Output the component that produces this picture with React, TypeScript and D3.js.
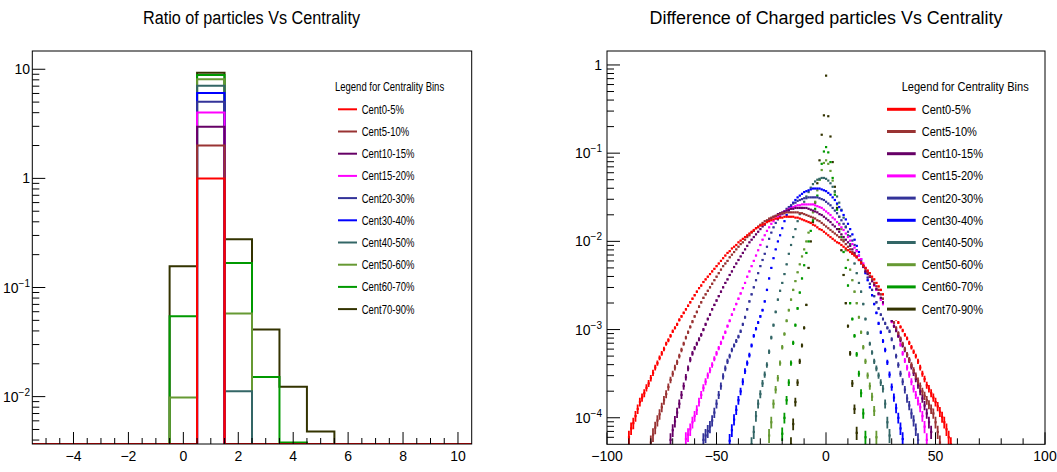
import React from 'react';
import * as d3 from 'd3';

const W = 1057;
const H = 472;
const FONT = "'Liberation Sans', Arial, Helvetica, sans-serif";

// ---------- shared legend ----------
const CENT_LABELS = [
  'Cent0-5%', 'Cent5-10%', 'Cent10-15%', 'Cent15-20%', 'Cent20-30%',
  'Cent30-40%', 'Cent40-50%', 'Cent50-60%', 'Cent60-70%', 'Cent70-90%',
];
const COLORS = [
  '#ff0000', '#993333', '#660066', '#ff00ff', '#333399',
  '#0000ff', '#336666', '#669933', '#009900', '#333300',
];
const LEFT_TITLE = 'Ratio of particles Vs Centrality';
const RIGHT_TITLE = 'Difference of Charged particles Vs Centrality';
const LEGEND_TITLE = 'Legend for Centrality Bins';

// ---------- left pad: ratio histograms ----------
const BIN_CENTERS = [-5, -4, -3, -2, -1, 0, 1, 2, 3, 4, 5, 6, 7, 8, 9, 10];
const RATIO_0_5 = [0, 0, 0, 0, 0, 0, 1.0, 0, 0, 0, 0, 0, 0, 0, 0, 0];
const RATIO_5_10 = [0, 0, 0, 0, 0, 0, 2.0, 0, 0, 0, 0, 0, 0, 0, 0, 0];
const RATIO_10_15 = [0, 0, 0, 0, 0, 0, 2.98, 0, 0, 0, 0, 0, 0, 0, 0, 0];
const RATIO_15_20 = [0, 0, 0, 0, 0, 0, 4.02, 0, 0, 0, 0, 0, 0, 0, 0, 0];
const RATIO_20_30 = [0, 0, 0, 0, 0, 0, 5.05, 0, 0, 0, 0, 0, 0, 0, 0, 0];
const RATIO_30_40 = [0, 0, 0, 0, 0, 0, 6.05, 0, 0, 0, 0, 0, 0, 0, 0, 0];
const RATIO_40_50 = [0, 0, 0, 0, 0, 0, 7.05, 0.0112, 0, 0, 0, 0, 0, 0, 0, 0];
const RATIO_50_60 = [0, 0, 0, 0, 0, 0.0098, 8.1, 0.0577, 0, 0, 0, 0, 0, 0, 0, 0];
const RATIO_60_70 = [0, 0, 0, 0, 0, 0.0546, 8.85, 0.168, 0.0151, 0.0038, 0, 0, 0, 0, 0, 0];
const RATIO_70_90 = [0, 0, 0, 0, 0, 0.157, 9.3, 0.277, 0.0412, 0.0123, 0.0048, 0, 0, 0, 0, 0];
const RATIO_SERIES = [
  RATIO_0_5, RATIO_5_10, RATIO_10_15, RATIO_15_20, RATIO_20_30,
  RATIO_30_40, RATIO_40_50, RATIO_50_60, RATIO_60_70, RATIO_70_90,
];

// ---------- right pad: difference distributions (log10 of normalised counts, one per integer bin) ----------
const DIFF_START = [-90, -80, -71, -64, -56, -44, -34, -26, -20, -16];
const DIFF_LOG_0_5 = [
  -4.22, -4.12, -4.06, -3.98, -3.90, -3.82, -3.77, -3.72, -3.66, -3.61,
  -3.55, -3.49, -3.43, -3.38, -3.32, -3.27, -3.22, -3.16, -3.12, -3.07,
  -3.02, -2.98, -2.94, -2.89, -2.85, -2.81, -2.77, -2.73, -2.69, -2.65,
  -2.61, -2.57, -2.53, -2.50, -2.46, -2.43, -2.40, -2.37, -2.34, -2.31,
  -2.28, -2.25, -2.22, -2.19, -2.16, -2.13, -2.11, -2.08, -2.06, -2.04,
  -2.01, -1.99, -1.97, -1.95, -1.93, -1.91, -1.89, -1.87, -1.85, -1.84,
  -1.82, -1.81, -1.80, -1.78, -1.77, -1.76, -1.75, -1.74, -1.74, -1.73,
  -1.73, -1.72, -1.72, -1.72, -1.72, -1.72, -1.73, -1.73, -1.74, -1.75,
  -1.76, -1.77, -1.78, -1.79, -1.81, -1.82, -1.84, -1.86, -1.87, -1.89,
  -1.91, -1.93, -1.95, -1.97, -1.99, -2.01, -2.02, -2.04, -2.06, -2.08,
  -2.10, -2.12, -2.14, -2.16, -2.18, -2.21, -2.24, -2.27, -2.30, -2.33,
  -2.36, -2.40, -2.43, -2.47, -2.51, -2.55, -2.60, -2.64, -2.69, -2.73,
  -2.78, -2.83, -2.88, -2.92, -2.97, -3.01, -3.06, -3.10, -3.15, -3.20,
  -3.25, -3.30, -3.36, -3.43, -3.50, -3.56, -3.63, -3.67, -3.72, -3.77,
  -3.82, -3.87, -3.93, -3.99, -4.05, -4.13, -4.22, -4.30,
];
const DIFF_LOG_5_10 = [
  -4.28, -4.19, -4.11, -4.03, -3.96, -3.88, -3.80, -3.73, -3.65, -3.57,
  -3.50, -3.43, -3.37, -3.30, -3.23, -3.16, -3.09, -3.03, -2.97, -2.91,
  -2.85, -2.80, -2.74, -2.69, -2.64, -2.60, -2.56, -2.52, -2.48, -2.44,
  -2.40, -2.36, -2.32, -2.28, -2.25, -2.22, -2.18, -2.15, -2.12, -2.09,
  -2.06, -2.03, -2.01, -1.98, -1.95, -1.93, -1.90, -1.88, -1.85, -1.83,
  -1.81, -1.79, -1.77, -1.76, -1.74, -1.73, -1.72, -1.71, -1.70, -1.69,
  -1.68, -1.68, -1.67, -1.67, -1.67, -1.67, -1.67, -1.67, -1.68, -1.68,
  -1.69, -1.70, -1.71, -1.72, -1.73, -1.74, -1.76, -1.77, -1.79, -1.81,
  -1.83, -1.85, -1.87, -1.89, -1.91, -1.93, -1.95, -1.98, -2.00, -2.03,
  -2.06, -2.09, -2.12, -2.15, -2.18, -2.21, -2.24, -2.28, -2.31, -2.35,
  -2.39, -2.43, -2.47, -2.51, -2.55, -2.60, -2.65, -2.70, -2.75, -2.80,
  -2.86, -2.92, -2.98, -3.04, -3.10, -3.16, -3.22, -3.28, -3.34, -3.40,
  -3.46, -3.52, -3.58, -3.64, -3.70, -3.75, -3.80, -3.85, -3.90, -3.95,
  -4.05, -4.16, -4.28,
];
const DIFF_LOG_10_15 = [
  -4.25, -4.14, -4.04, -3.94, -3.84, -3.74, -3.64, -3.54, -3.44, -3.34,
  -3.27, -3.21, -3.16, -3.11, -3.06, -3.00, -2.94, -2.88, -2.83, -2.77,
  -2.72, -2.67, -2.62, -2.57, -2.52, -2.47, -2.43, -2.38, -2.34, -2.29,
  -2.25, -2.21, -2.17, -2.13, -2.09, -2.05, -2.01, -1.98, -1.95, -1.92,
  -1.89, -1.86, -1.83, -1.81, -1.78, -1.76, -1.74, -1.72, -1.71, -1.69,
  -1.68, -1.67, -1.66, -1.65, -1.64, -1.63, -1.63, -1.62, -1.62, -1.62,
  -1.62, -1.62, -1.62, -1.63, -1.64, -1.65, -1.66, -1.67, -1.69, -1.70,
  -1.72, -1.74, -1.76, -1.78, -1.81, -1.83, -1.86, -1.89, -1.92, -1.95,
  -1.98, -2.01, -2.05, -2.09, -2.13, -2.17, -2.21, -2.25, -2.29, -2.34,
  -2.37, -2.40, -2.45, -2.49, -2.54, -2.59, -2.64, -2.69, -2.74, -2.79,
  -2.85, -2.90, -2.96, -3.01, -3.07, -3.12, -3.18, -3.23, -3.29, -3.35,
  -3.42, -3.49, -3.56, -3.63, -3.70, -3.78, -3.86, -3.95, -4.05, -4.16,
];
const DIFF_LOG_15_20 = [
  -4.24, -4.19, -4.13, -4.05, -3.98, -3.91, -3.82, -3.74, -3.66, -3.59,
  -3.52, -3.46, -3.40, -3.33, -3.27, -3.21, -3.15, -3.09, -3.03, -2.96,
  -2.90, -2.83, -2.77, -2.71, -2.65, -2.59, -2.53, -2.47, -2.40, -2.34,
  -2.28, -2.22, -2.16, -2.10, -2.04, -1.98, -1.93, -1.88, -1.84, -1.80,
  -1.77, -1.74, -1.72, -1.70, -1.68, -1.66, -1.65, -1.63, -1.62, -1.61,
  -1.60, -1.59, -1.59, -1.58, -1.58, -1.58, -1.58, -1.58, -1.58, -1.59,
  -1.60, -1.61, -1.62, -1.64, -1.66, -1.68, -1.70, -1.73, -1.75, -1.78,
  -1.81, -1.84, -1.87, -1.91, -1.95, -1.99, -2.03, -2.07, -2.11, -2.16,
  -2.20, -2.25, -2.30, -2.35, -2.40, -2.45, -2.50, -2.55, -2.60, -2.66,
  -2.71, -2.76, -2.81, -2.86, -2.91, -2.96, -3.00, -3.07, -3.17, -3.27,
  -3.35, -3.43, -3.51, -3.59, -3.67, -3.74, -3.81, -3.88, -3.98, -4.10,
  -4.25,
];
const DIFF_LOG_20_30 = [
  -4.25, -4.20, -4.15, -4.10, -4.03, -3.94, -3.84, -3.74, -3.64, -3.53,
  -3.44, -3.36, -3.30, -3.23, -3.18, -3.13, -3.08, -3.02, -2.94, -2.86,
  -2.77, -2.68, -2.60, -2.52, -2.44, -2.36, -2.28, -2.21, -2.14, -2.06,
  -1.97, -1.90, -1.84, -1.79, -1.75, -1.72, -1.69, -1.66, -1.63, -1.61,
  -1.59, -1.57, -1.56, -1.54, -1.53, -1.52, -1.51, -1.51, -1.50, -1.50,
  -1.50, -1.50, -1.50, -1.51, -1.52, -1.53, -1.55, -1.57, -1.59, -1.62,
  -1.65, -1.68, -1.72, -1.76, -1.80, -1.84, -1.89, -1.94, -1.99, -2.04,
  -2.10, -2.16, -2.22, -2.28, -2.34, -2.41, -2.48, -2.55, -2.62, -2.69,
  -2.76, -2.83, -2.88, -2.93, -2.98, -3.02, -3.11, -3.20, -3.30, -3.40,
  -3.50, -3.59, -3.68, -3.78, -3.86, -3.95, -4.03, -4.13, -4.25,
];
const DIFF_LOG_30_40 = [
  -4.26, -4.14, -4.02, -3.91, -3.80, -3.70, -3.59, -3.47, -3.38, -3.29,
  -3.18, -3.07, -2.99, -2.92, -2.85, -2.78, -2.68, -2.55, -2.42, -2.30,
  -2.19, -2.09, -2.00, -1.93, -1.85, -1.77, -1.70, -1.65, -1.60, -1.56,
  -1.53, -1.50, -1.48, -1.46, -1.44, -1.43, -1.42, -1.41, -1.40, -1.40,
  -1.40, -1.40, -1.41, -1.42, -1.43, -1.45, -1.47, -1.50, -1.53, -1.57,
  -1.61, -1.65, -1.70, -1.75, -1.80, -1.86, -1.92, -1.98, -2.05, -2.12,
  -2.20, -2.28, -2.36, -2.44, -2.52, -2.61, -2.71, -2.81, -2.93, -3.03,
  -3.13, -3.23, -3.37, -3.51, -3.65, -3.77, -3.89, -4.00, -4.12, -4.24,
];
const DIFF_LOG_40_50 = [
  -4.30, -4.16, -3.98, -3.84, -3.73, -3.61, -3.51, -3.40, -3.25, -3.09,
  -2.95, -2.80, -2.66, -2.56, -2.47, -2.37, -2.26, -2.14, -2.04, -1.95,
  -1.86, -1.77, -1.69, -1.62, -1.55, -1.49, -1.44, -1.39, -1.35, -1.32,
  -1.30, -1.29, -1.28, -1.28, -1.29, -1.31, -1.34, -1.38, -1.43, -1.49,
  -1.56, -1.64, -1.73, -1.83, -1.93, -2.03, -2.14, -2.25, -2.36, -2.47,
  -2.57, -2.71, -2.88, -3.04, -3.16, -3.26, -3.36, -3.44, -3.52, -3.60,
  -3.67, -3.84, -4.05, -4.20,
];
const DIFF_LOG_50_60 = [
  -4.20, -4.05, -3.84, -3.68, -3.55, -3.38, -3.20, -3.05, -2.90, -2.78,
  -2.66, -2.55, -2.45, -2.35, -2.26, -2.17, -2.09, -2.00, -1.90, -1.79,
  -1.67, -1.55, -1.42, -1.30, -1.19, -1.11, -1.08, -1.12, -1.20, -1.31,
  -1.44, -1.58, -1.72, -1.86, -1.98, -2.10, -2.21, -2.32, -2.44, -2.57,
  -2.70, -2.86, -3.03, -3.20, -3.36, -3.52, -3.64, -3.76, -3.92, -4.22,
];
const DIFF_LOG_60_70 = [
  -4.18, -4.00, -3.80, -3.60, -3.38, -3.15, -2.95, -2.76, -2.58, -2.42,
  -2.27, -2.13, -2.00, -1.88, -1.76, -1.63, -1.48, -1.30, -1.12, -0.98,
  -0.93, -0.99, -1.10, -1.28, -1.47, -1.64, -1.80, -1.95, -2.12, -2.30,
  -2.50, -2.70, -2.88, -3.07, -3.28, -3.50, -3.72, -3.95, -4.22,
];
const DIFF_LOG_70_90 = [
  -4.30, -4.07, -3.82, -3.60, -3.36, -3.18, -2.98, -2.72, -2.30, -2.00,
  -1.78, -1.56, -1.34, -1.08, -0.79, -0.57, -0.12, -0.58, -0.81, -1.10,
  -1.38, -1.62, -1.86, -2.10, -2.38, -2.70, -2.96, -3.27, -3.61, -3.90,
  -4.17,
];
const DIFF_SERIES = [
  DIFF_LOG_0_5, DIFF_LOG_5_10, DIFF_LOG_10_15, DIFF_LOG_15_20, DIFF_LOG_20_30,
  DIFF_LOG_30_40, DIFF_LOG_40_50, DIFF_LOG_50_60, DIFF_LOG_60_70, DIFF_LOG_70_90,
];
const N_EVENTS = 5e5; // for statistical error bars sqrt(v/N)

// ---------- tick labels ----------
const LEFT_X_MAJOR = [-4, -2, 0, 2, 4, 6, 8, 10];
const RIGHT_X_MAJOR = [-100, -50, 0, 50, 100];
const LEFT_Y_DECADES = [0.01, 0.1, 1, 10];
const RIGHT_Y_DECADES = [1e-4, 1e-3, 1e-2, 1e-1, 1];

function Txt(props: any) {
  const { x, y, size, sx = 1, anchor = 'start', children, fill = '#000' } = props;
  return (
    <text
      transform={`translate(${x},${y}) scale(${sx},1)`}
      fontSize={size}
      fontFamily={FONT}
      textAnchor={anchor}
      fill={fill}
    >
      {children}
    </text>
  );
}

function fmtNum(v: number) {
  return v < 0 ? `\u2212${Math.abs(v)}` : `${v}`;
}

function LogLabel({ v, x, y }: { v: number; x: number; y: number }) {
  const e = Math.round(Math.log10(v));
  if (e === 0 || e === 1) {
    return <Txt x={x} y={y} size={14} anchor="end">{e === 0 ? '1' : '10'}</Txt>;
  }
  return (
    <text x={x} y={y} fontSize={14} fontFamily={FONT} textAnchor="end">
      10
      <tspan dy={-6} fontSize={10}>{`\u2212${-e}`}</tspan>
    </text>
  );
}

function Legend({ x0, lineX0, lineX1, textX, sx, lw }: any) {
  const rows = CENT_LABELS.map((lab, i) => ({ lab, i }));
  const y0 = 109.3;
  const dy = 22.2;
  return (
    <g>
      <Txt x={x0} y={86.7 + 4.5} size={13} sx={sx}>{LEGEND_TITLE}</Txt>
      {rows.map(({ lab, i }) => (
        <g key={lab}>
          <line x1={lineX0} x2={lineX1} y1={y0 + i * dy} y2={y0 + i * dy} stroke={COLORS[i]} strokeWidth={lw} />
          <Txt x={textX} y={y0 + i * dy + 4.5} size={13} sx={sx}>{lab}</Txt>
        </g>
      ))}
    </g>
  );
}

export default function App() {
  // left pad scales
  const lx = d3.scaleLinear().domain([-5.5, 10.5]).range([32.3, 471.7]);
  const ly = d3.scaleLog().domain([0.00368, 14.7]).range([444, 51]);
  // right pad scales
  const rx = d3.scaleLinear().domain([-100, 100]).range([607, 1045]);
  const ry = d3.scaleLog().domain([5.0e-5, 1.44]).range([444.3, 51]);

  const lyMin = ly.domain()[0];
  const ryMin = ry.domain()[0];

  const histPath = (vals: number[]) => {
    let d = '';
    vals.forEach((v, i) => {
      const c = BIN_CENTERS[i];
      const y = ly(Math.max(v, lyMin));
      d += i === 0 ? `M${lx(c - 0.5)},${y}` : `V${y}`;
      d += `H${lx(c + 0.5)}`;
    });
    return d;
  };

  const decadeMinors = (lo: number, hi: number) => {
    const out: number[] = [];
    for (let e = -6; e <= 2; e++) {
      for (let m = 2; m <= 9; m++) {
        const v = m * Math.pow(10, e);
        if (v > lo && v < hi) out.push(v);
      }
    }
    return out;
  };

  const [lxa, lxb] = lx.range();
  const [lyb, lya] = ly.range();
  const [rxa, rxb] = rx.range();
  const [ryb, rya] = ry.range();

  const leftMinorX = d3.range(-5, 10.5, 0.5).filter((v) => !LEFT_X_MAJOR.includes(v));
  const rightMinorX = d3.range(-90, 100, 10).filter((v) => !RIGHT_X_MAJOR.includes(v));

  return (
    <svg width={W} height={H} style={{ position: 'absolute', left: 0, top: 0, background: '#fff' }}>
      <rect x={0} y={0} width={W} height={H} fill="#fff" />
      <defs>
        <clipPath id="clipL">
          <rect x={lxa} y={lya} width={lxb - lxa} height={lyb - lya} />
        </clipPath>
        <clipPath id="clipR">
          <rect x={rxa} y={rya} width={rxb - rxa} height={ryb - rya} />
        </clipPath>
      </defs>

      {/* titles */}
      <text x={251.5} y={24} fontSize={18} fontFamily={FONT} textAnchor="middle" textLength={217} lengthAdjust="spacingAndGlyphs">{LEFT_TITLE}</text>
      <text x={826} y={24} fontSize={18} fontFamily={FONT} textAnchor="middle" textLength={353} lengthAdjust="spacingAndGlyphs">{RIGHT_TITLE}</text>

      {/* ---------------- LEFT PAD ---------------- */}
      <g clipPath="url(#clipL)">
        {RATIO_SERIES.map((vals, i) => ({ vals, i })).reverse().map(({ vals, i }) => (
          <path key={i} d={histPath(vals)} fill="none" stroke={COLORS[i]} strokeWidth={2} />
        ))}
      </g>
      <rect x={lxa} y={lya} width={lxb - lxa} height={lyb - lya} fill="none" stroke="#000" strokeWidth={1} />
      {leftMinorX.map((v) => (
        <line key={`lxm${v}`} x1={lx(v)} x2={lx(v)} y1={lyb} y2={lyb - 6} stroke="#000" strokeWidth={1} />
      ))}
      {LEFT_X_MAJOR.map((v) => (
        <g key={`lxM${v}`}>
          <line x1={lx(v)} x2={lx(v)} y1={lyb} y2={lyb - 12} stroke="#000" strokeWidth={1} />
          <Txt x={lx(v)} y={461} size={14} anchor="middle">{fmtNum(v)}</Txt>
        </g>
      ))}
      {decadeMinors(lyMin, ly.domain()[1]).map((v) => (
        <line key={`lym${v}`} x1={lxa} x2={lxa + 7} y1={ly(v)} y2={ly(v)} stroke="#000" strokeWidth={1} />
      ))}
      {LEFT_Y_DECADES.map((v) => (
        <g key={`lyM${v}`}>
          <line x1={lxa} x2={lxa + 13} y1={ly(v)} y2={ly(v)} stroke="#000" strokeWidth={1} />
          <LogLabel v={v} x={30} y={ly(v) + 5} />
        </g>
      ))}
      <rect x={330} y={72} width={125} height={248} fill="#fff" />
      <Legend x0={335} lineX0={338} lineX1={357} textX={361.7} sx={0.73} lw={2} />

      {/* ---------------- RIGHT PAD ---------------- */}
      <g clipPath="url(#clipR)">
        {DIFF_SERIES.map((vals, i) => ({ vals, i })).reverse().map(({ vals, i }) => (
          <g key={i} fill={COLORS[i]} stroke={COLORS[i]}>
            {vals.map((l, k) => {
              const v = Math.pow(10, l);
              if (v < ryMin) return null;
              const xv = DIFF_START[i] + k;
              const px = rx(xv);
              const py = ry(v);
              const err = Math.sqrt(v / N_EVENTS);
              const y1 = ry(v + err);
              const y2 = ry(Math.max(v - err, ryMin * 0.5));
              return (
                <g key={k}>
                  <line x1={px} x2={px} y1={y1} y2={y2} strokeWidth={1.8} />
                  <rect x={px - 1} y={py - 1} width={2.2} height={2.2} stroke="none" />
                </g>
              );
            })}
          </g>
        ))}
      </g>
      <rect x={884} y={72} width={156} height={248} fill="#fff" />
      <rect x={rxa} y={rya} width={rxb - rxa} height={ryb - rya} fill="none" stroke="#000" strokeWidth={1} />
      {rightMinorX.map((v) => (
        <line key={`rxm${v}`} x1={rx(v)} x2={rx(v)} y1={ryb} y2={ryb - 6} stroke="#000" strokeWidth={1} />
      ))}
      {RIGHT_X_MAJOR.map((v) => (
        <g key={`rxM${v}`}>
          <line x1={rx(v)} x2={rx(v)} y1={ryb} y2={ryb - 12} stroke="#000" strokeWidth={1} />
          <Txt x={rx(v)} y={461} size={14} anchor="middle">{fmtNum(v)}</Txt>
        </g>
      ))}
      {decadeMinors(ryMin, ry.domain()[1]).map((v) => (
        <line key={`rym${v}`} x1={rxa} x2={rxa + 7} y1={ry(v)} y2={ry(v)} stroke="#000" strokeWidth={1} />
      ))}
      {RIGHT_Y_DECADES.map((v) => (
        <g key={`ryM${v}`}>
          <line x1={rxa} x2={rxa + 13} y1={ry(v)} y2={ry(v)} stroke="#000" strokeWidth={1} />
          <LogLabel v={v} x={602} y={ry(v) + 5} />
        </g>
      ))}
      <Legend x0={901.7} lineX0={887} lineX1={915.7} textX={921.7} sx={0.85} lw={3} />
    </svg>
  );
}
